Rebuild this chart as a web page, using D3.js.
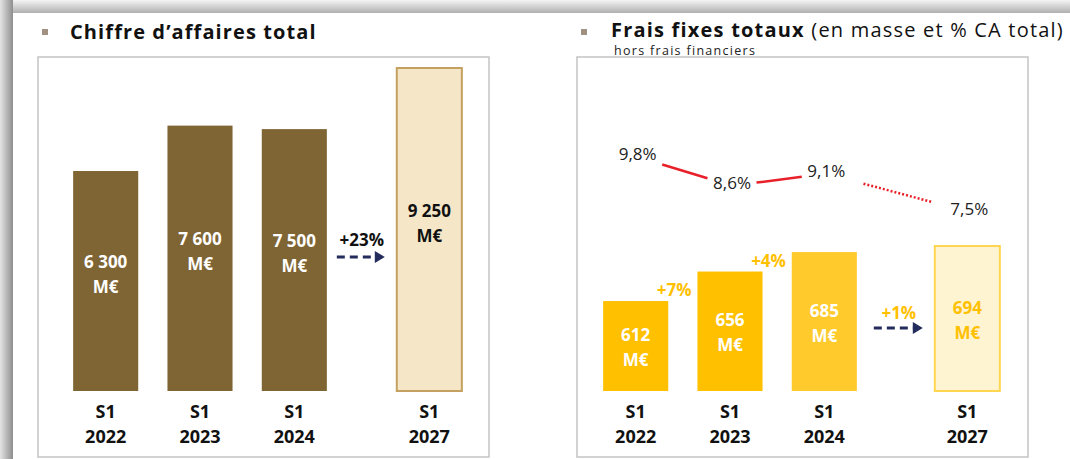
<!DOCTYPE html>
<html>
<head>
<meta charset="utf-8">
<script src="https://cdn.jsdelivr.net/npm/d3@7"></script>
<style>
  body { margin: 0; background: #fff; }
  text { font-family: 'Open Sans', sans-serif; }
</style>
</head>
<body>
<div id="chart"></div>
<script>
// Data
const caCategories = ['S1|2022', 'S1|2023', 'S1|2024', 'S1|2027']
const caValues = [6300, 7600, 7500, 9250]
const caLabels = ['6 300', '7 600', '7 500', '9 250']
const caGrowth = '+23%'

const ffCategories = ['S1|2022', 'S1|2023', 'S1|2024', 'S1|2027']
const ffValues = [612, 656, 685, 694]
const ffGrowth = ['+7%', '+4%']
const ffProjGrowth = '+1%'
const ffPct = [9.8, 8.6, 9.1, 7.5]
const ffPctLabels = ['9,8%', '8,6%', '9,1%', '7,5%']

function draw() {
  const dimensions = { width: 1070, height: 459 }

  const svg = d3.select('#chart')
    .append('svg')
    .attr('width', dimensions.width)
    .attr('height', dimensions.height)

  const defs = svg.append('defs')
  const gl = defs.append('linearGradient').attr('id', 'shadowLeft')
  gl.append('stop').attr('offset', '0%').attr('stop-color', '#e4e4e4')
  gl.append('stop').attr('offset', '100%').attr('stop-color', '#8e8e8e')
  const gt = defs.append('linearGradient').attr('id', 'shadowTop')
    .attr('x1', 0).attr('x2', 0).attr('y1', 0).attr('y2', 1)
  gt.append('stop').attr('offset', '0%').attr('stop-color', '#f4f4f4')
  gt.append('stop').attr('offset', '100%').attr('stop-color', '#b0b0b0')

  // slide shadow
  svg.append('rect').attr('x', 0).attr('y', 0).attr('width', dimensions.width).attr('height', 13)
    .attr('fill', 'url(#shadowTop)')
  svg.append('rect').attr('x', 0).attr('y', 0).attr('width', 13).attr('height', dimensions.height)
    .attr('fill', 'url(#shadowLeft)')
  svg.append('rect').attr('x', 13).attr('y', 13).attr('width', dimensions.width).attr('height', dimensions.height)
    .attr('fill', '#fff')

  // arrow helper
  function arrow(g, x0, x1, y) {
    g.append('line')
      .attr('x1', x0).attr('x2', x1 - 8).attr('y1', y).attr('y2', y)
      .attr('stroke', '#232c5c').attr('stroke-width', 3)
      .attr('stroke-dasharray', '8,5')
    g.append('path')
      .attr('d', `M${x1 - 10},${y - 6} L${x1},${y} L${x1 - 10},${y + 6} Z`)
      .attr('fill', '#232c5c')
  }

  function catLabels(g, cats, xPos) {
    const t = g.selectAll('.cat').data(cats).join('text')
      .attr('class', 'cat')
      .attr('text-anchor', 'middle')
      .attr('font-weight', 700)
      .attr('font-size', 18)
      .attr('fill', '#111')
    t.append('tspan').attr('x', (d, i) => xPos(i)).attr('y', 418).text(d => d.split('|')[0])
    t.append('tspan').attr('x', (d, i) => xPos(i)).attr('y', 443).text(d => d.split('|')[1])
  }

  // ---------- Left panel: Chiffre d'affaires ----------
  const left = svg.append('g')
  left.append('rect').attr('x', 42).attr('y', 29).attr('width', 6).attr('height', 6).attr('fill', '#a09182')
  left.append('text').attr('x', 70).attr('y', 39)
    .attr('font-size', 20).attr('font-weight', 700).attr('fill', '#111')
    .attr('letter-spacing', 1.1)
    .text('Chiffre d’affaires total')
  left.append('rect').attr('x', 38).attr('y', 57).attr('width', 451).attr('height', 400)
    .attr('fill', 'none').attr('stroke', '#c4c4c4').attr('stroke-width', 1.5)

  const caBand = d3.scaleBand().domain([0, 1, 2]).range([59, 341]).paddingInner(0.31).paddingOuter(0.15)
  const caGap = 135
  const caX = i => i < 3 ? caBand(i) : caBand(2) + caGap
  const caY = d3.scaleLinear().domain([0, 9250]).range([391, 68])
  const bw = caBand.bandwidth()

  left.selectAll('.bar').data(caValues).join('rect')
    .attr('class', 'bar')
    .attr('x', (d, i) => caX(i))
    .attr('y', d => caY(d))
    .attr('width', bw)
    .attr('height', d => caY(0) - caY(d))
    .attr('fill', (d, i) => i < 3 ? '#806534' : '#f6e6c8')
    .attr('stroke', (d, i) => i < 3 ? 'none' : '#c4a160')
    .attr('stroke-width', 2)

  const caLbl = left.selectAll('.val').data(caValues).join('text')
    .attr('class', 'val')
    .attr('text-anchor', 'middle')
    .attr('font-weight', 700)
    .attr('font-size', 17)
    .attr('fill', (d, i) => i < 3 ? '#fff' : '#111')
  caLbl.append('tspan').attr('x', (d, i) => caX(i) + bw / 2)
    .attr('y', d => (caY(d) + caY(0)) / 2 - 13).text((d, i) => caLabels[i])
  caLbl.append('tspan').attr('x', (d, i) => caX(i) + bw / 2)
    .attr('y', d => (caY(d) + caY(0)) / 2 + 12).text('M€')

  catLabels(left, caCategories, i => caX(i) + bw / 2)

  const caMid = (caX(2) + bw + caX(3)) / 2
  left.append('text').attr('x', caMid).attr('y', 246).attr('text-anchor', 'middle')
    .attr('font-weight', 700).attr('font-size', 17).attr('fill', '#111').text(caGrowth)
  arrow(left, caMid - 25, caMid + 23, 257)

  // ---------- Right panel: Frais fixes ----------
  const right = svg.append('g')
  right.append('rect').attr('x', 581).attr('y', 29).attr('width', 6).attr('height', 6).attr('fill', '#a09182')
  const title = right.append('text').attr('x', 611).attr('y', 37).attr('font-size', 20).attr('fill', '#111')
    .attr('letter-spacing', 1.2)
  title.append('tspan').attr('font-weight', 700).text('Frais fixes totaux')
  title.append('tspan').attr('font-weight', 400).text(' (en masse et % CA total)')
  right.append('text').attr('x', 614).attr('y', 55).attr('font-size', 12.5).attr('fill', '#222')
    .attr('letter-spacing', 1.3)
    .text('hors frais financiers')
  right.append('rect').attr('x', 577).attr('y', 57).attr('width', 451).attr('height', 400)
    .attr('fill', 'none').attr('stroke', '#c4c4c4').attr('stroke-width', 1.5)

  const ffBand = d3.scaleBand().domain([0, 1, 2]).range([589, 871]).paddingInner(0.31).paddingOuter(0.15)
  const ffGap = 143
  const ffX = i => i < 3 ? ffBand(i) : ffBand(2) + ffGap
  const ffY = d3.scaleLinear().domain([478, 700]).range([391, 242])
  const fw = ffBand.bandwidth()
  const ffFill = ['#ffc000', '#ffc000', '#ffca2c', '#fff4d2']

  right.selectAll('.bar').data(ffValues).join('rect')
    .attr('class', 'bar')
    .attr('x', (d, i) => ffX(i))
    .attr('y', d => ffY(d))
    .attr('width', fw)
    .attr('height', d => ffY(478) - ffY(d))
    .attr('fill', (d, i) => ffFill[i])
    .attr('stroke', (d, i) => i < 3 ? 'none' : '#ffd650')
    .attr('stroke-width', 2)

  const ffLbl = right.selectAll('.val').data(ffValues).join('text')
    .attr('class', 'val')
    .attr('text-anchor', 'middle')
    .attr('font-weight', 700)
    .attr('font-size', 17)
    .attr('fill', (d, i) => i < 3 ? '#fff' : '#ffc000')
  ffLbl.append('tspan').attr('x', (d, i) => ffX(i) + fw / 2)
    .attr('y', d => (ffY(d) + ffY(478)) / 2 - 5).text(d => d)
  ffLbl.append('tspan').attr('x', (d, i) => ffX(i) + fw / 2)
    .attr('y', d => (ffY(d) + ffY(478)) / 2 + 20).text('M€')

  catLabels(right, ffCategories, i => ffX(i) + fw / 2)

  right.selectAll('.growth').data(ffGrowth).join('text')
    .attr('class', 'growth')
    .attr('x', (d, i) => ffX(i) + fw + 6)
    .attr('y', (d, i) => ffY(ffValues[i]) - 5)
    .attr('text-anchor', 'middle')
    .attr('font-weight', 700).attr('font-size', 17).attr('fill', '#ffc000')
    .text(d => d)

  const ffMid = (ffX(2) + fw + ffX(3)) / 2
  right.append('text').attr('x', ffMid + 3).attr('y', 319).attr('text-anchor', 'middle')
    .attr('font-weight', 700).attr('font-size', 17).attr('fill', '#ffc000').text(ffProjGrowth)
  arrow(right, ffMid - 22, ffMid + 27, 328)

  // % CA line
  const pctY = d3.scaleLinear().domain([7.5, 9.8]).range([209, 154])
  const px = i => ffX(i) + fw / 2 + 2
  const lerp = (a, b, t) => a + (b - a) * t
  for (let i = 0; i < ffPct.length - 1; i++) {
    const x0 = px(i), y0 = pctY(ffPct[i]) + 3
    const x1 = px(i + 1), y1 = pctY(ffPct[i + 1]) + 3
    right.append('line')
      .attr('x1', lerp(x0, x1, 0.26)).attr('y1', lerp(y0, y1, 0.26))
      .attr('x2', lerp(x0, x1, 0.74)).attr('y2', lerp(y0, y1, 0.74))
      .attr('stroke', '#e8202a').attr('stroke-width', 2.5)
      .attr('stroke-dasharray', i === ffPct.length - 2 ? '2,2' : null)
  }
  right.selectAll('.pct').data(ffPct).join('text')
    .attr('class', 'pct')
    .attr('x', (d, i) => px(i))
    .attr('y', d => pctY(d) + 6)
    .attr('text-anchor', 'middle')
    .attr('font-size', 17).attr('fill', '#222')
    .text((d, i) => ffPctLabels[i])
}
draw()
</script>
</body>
</html>
